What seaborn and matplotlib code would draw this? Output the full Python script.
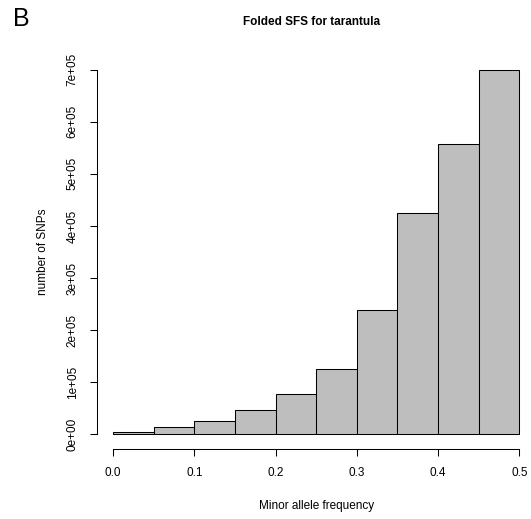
import numpy as np
import seaborn as sns
import matplotlib
matplotlib.use('Agg')
import matplotlib.pyplot as plt

# folded SFS: bins of minor allele frequency and SNP counts per bin
bin_edges = [0.0, 0.05, 0.10, 0.15, 0.20, 0.25, 0.30, 0.35, 0.40, 0.45, 0.50]
snp_counts = [4400, 14000, 25500, 46000, 78000, 125500, 239000, 425500, 556500, 699000]
x_ticks = [0.0, 0.1, 0.2, 0.3, 0.4, 0.5]
y_ticks = [0, 100000, 200000, 300000, 400000, 500000, 600000, 700000]
y_tick_labels = ["0e+00", "1e+05", "2e+05", "3e+05", "4e+05", "5e+05", "6e+05", "7e+05"]

sns.set_style("white")
plt.rcParams['font.family'] = ['Liberation Sans', 'DejaVu Sans']
plt.rcParams['text.color'] = 'black'
plt.rcParams['axes.labelcolor'] = 'black'
plt.rcParams['xtick.color'] = 'black'
plt.rcParams['ytick.color'] = 'black'

centers = [(a + b) / 2 for a, b in zip(bin_edges[:-1], bin_edges[1:])]

fig = plt.figure(figsize=(5.31, 5.19), dpi=100)
ax = fig.add_axes([0.1822, 0.1349, 0.8265, 0.7593])

sns.histplot(x=centers, weights=snp_counts, bins=bin_edges, ax=ax,
             color='#BEBEBE', edgecolor='black', linewidth=0.75, alpha=1)

ax.set_xlim(-0.02, 0.52)
ax.set_ylim(-28000, 728000)

# R-style detached axes
for side in ['top', 'right']:
    ax.spines[side].set_visible(False)
ax.spines['left'].set_bounds(0, 700000)
ax.spines['bottom'].set_bounds(0, 0.5)
for side in ['left', 'bottom']:
    ax.spines[side].set_linewidth(0.75)
    ax.spines[side].set_color('black')

ax.set_xticks(x_ticks)
ax.set_xticklabels([f"{t:.1f}" for t in x_ticks], fontsize=8.5)
ax.set_yticks(y_ticks)
ax.set_yticklabels(y_tick_labels, fontsize=8.5, rotation=90, va='center')
ax.tick_params(axis='both', direction='out', length=5, width=0.75, color='black',
               labelcolor='black', left=True, bottom=True, pad=8)

ax.set_xlabel("Minor allele frequency", fontsize=8.5, labelpad=15)
ax.set_ylabel("number of SNPs", fontsize=8.5, labelpad=13)

fig.text(0.586, 0.957, "Folded SFS for tarantula", fontsize=8.5, fontweight='bold',
         ha='center', va='center')
fig.text(0.024, 0.964, "B", fontsize=18, ha='left', va='center')

plt.savefig("out.png", dpi=100)
plt.close()
